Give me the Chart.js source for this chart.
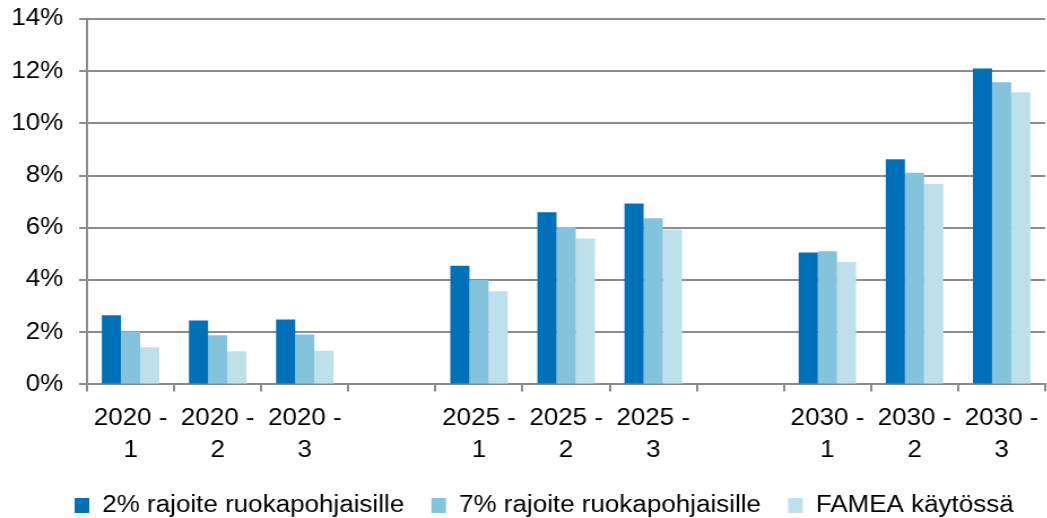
<!DOCTYPE html>
<html>
<head>
<meta charset="utf-8">
<script src="https://cdn.jsdelivr.net/npm/chart.js@4/dist/chart.umd.min.js"></script>
<style>
  html, body { margin: 0; padding: 0; background: #fff; overflow: hidden; }
  #wrap { width: 1047px; height: 518px; overflow: hidden; }
  /* the original artwork is a bit wider than tall, so stretch horizontally */
  #chart { transform: scaleX(1.13); transform-origin: 0 0; }
</style>
</head>
<body>
<div id="wrap"><canvas id="chart" width="931" height="518"></canvas></div>
<script>
const categories = [
  ['2020 -', '1'], ['2020 -', '2'], ['2020 -', '3'], '',
  ['2025 -', '1'], ['2025 -', '2'], ['2025 -', '3'], '',
  ['2030 -', '1'], ['2030 -', '2'], ['2030 -', '3'],
];
const seriesNames = ['2% rajoite ruokapohjaisille', '7% rajoite ruokapohjaisille', 'FAMEA käytössä'];
const limit2 = [2.65, 2.45, 2.49, null, 4.55, 6.60, 6.93, null, 5.05, 8.63, 12.10];
const limit7 = [2.03, 1.88, 1.91, null, 4.00, 6.03, 6.37, null, 5.10, 8.11, 11.58];
const famea  = [1.42, 1.27, 1.29, null, 3.57, 5.59, 5.93, null, 4.69, 7.68, 11.19];
const yTicks = [0, 2, 4, 6, 8, 10, 12, 14];
const colors = ['#0070b8', '#84c3dc', '#bde0eb'];

const FONT = '"Liberation Sans", Arial, sans-serif';
const GRID = '#8c8c8c';

// bottom legend: sit closer to the canvas edge and a bit right of centre
const legendPlace = {
  id: 'legendPlace',
  beforeInit(chart) {
    const fit = chart.legend.fit;
    chart.legend.fit = function () {
      fit.call(this);
      this.height -= 9;
    };
  },
  afterLayout(chart) {
    chart.legend.left += 18;
    chart.legend.right += 18;
  },
};

new Chart(document.getElementById('chart'), {
  type: 'bar',
  data: {
    labels: categories,
    datasets: [limit2, limit7, famea].map((d, i) => ({
      label: seriesNames[i],
      data: d,
      backgroundColor: colors[i],
      borderWidth: 0,
      categoryPercentage: 0.66,
      barPercentage: 1.0,
    })),
  },
  options: {
    responsive: false,
    animation: false,
    events: [],
    layout: { padding: { left: -4, top: 19, right: 0, bottom: 0 } },
    scales: {
      x: {
        offset: true,
        afterFit: axis => { axis.height -= 8; },
        grid: { drawOnChartArea: false, drawTicks: true, tickLength: 7, color: GRID, lineWidth: 2 },
        border: { color: GRID, width: 2 },
        ticks: {
          color: '#000',
          padding: 12,
          maxRotation: 0,
          autoSkip: false,
          font: { family: FONT, size: 23, lineHeight: 1.36 },
        },
      },
      y: {
        min: 0,
        max: 14,
        afterBuildTicks: axis => { axis.ticks = yTicks.map(v => ({ value: v })); },
        afterFit: axis => { axis.paddingTop = 0; },
        grid: { color: GRID, lineWidth: 2, tickLength: 7 },
        border: { color: GRID, width: 2 },
        ticks: {
          color: '#000',
          padding: 14,
          callback: v => v + '%',
          font: { family: FONT, size: 23 },
        },
      },
    },
    plugins: {
      legend: {
        position: 'bottom',
        labels: {
          color: '#000',
          boxWidth: 13,
          boxHeight: 15,
          padding: 24,
          font: { family: FONT, size: 23 },
        },
      },
      tooltip: { enabled: false },
    },
  },
  plugins: [legendPlace],
});
</script>
</body>
</html>
